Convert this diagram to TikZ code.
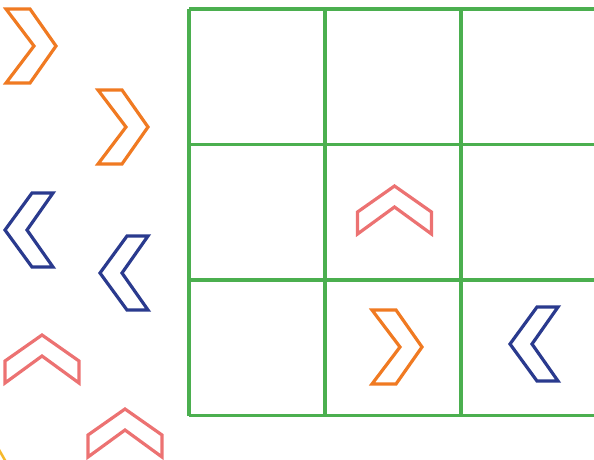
\documentclass[tikz,border=0pt]{standalone}
\usepackage{xcolor}
\usepackage{tikz}
\definecolor{ChevOrange}{HTML}{F07A22}
\definecolor{ChevBlue}{HTML}{2A3A8E}
\definecolor{ChevPink}{HTML}{EC7272}
\definecolor{GridGreen}{HTML}{4BAF4F}
\definecolor{EdgeYellow}{HTML}{F6B92B}

\begin{document}
\begin{tikzpicture}[x=1pt,y=-1pt,line join=miter,
 gridline/.style={draw=GridGreen,line width=3.8pt},
 chev/.style={line width=3.2pt,fill=none},
 rchev/.pic={\draw[chev,draw=ChevOrange] (0,0)--(24,0)--(50,37)--(24,74)--(0,74)--(28,37)--cycle;},
 lchev/.pic={\draw[chev,draw=ChevBlue] (0,0)--(-21,0)--(-48,37)--(-21,74)--(0,74)--(-26,37)--cycle;},
 uchev/.pic={\draw[chev,draw=ChevPink] (0,0)--(37,26)--(37,48)--(0,21)--(-37,48)--(-37,26)--cycle;}]
\useasboundingbox (0,0) rectangle (594,459);
% board
\foreach \gx in {189,325,461,597} \draw[gridline] (\gx,9)--(\gx,415.5);
\foreach \gy in {9,144.5,280,415.5} \draw[gridline] (189,\gy)--(597,\gy);
% loose pieces
\pic (o1) at (6,9) {rchev};
\pic (o2) at (98,90) {rchev};
\pic (b1) at (53,193) {lchev};
\pic (b2) at (148,236) {lchev};
\pic (p1) at (42,335) {uchev};
\pic (p2) at (125,409) {uchev};
% pieces on the board
\pic (p3) at (394.5,186) {uchev};
\pic (o3) at (372,310) {rchev};
\pic (b3) at (558,307) {lchev};
% cut-off piece in the corner
\begin{scope}
\clip (0,0) rectangle (594,459);
\draw[EdgeYellow,line width=2.5pt] (-2,448)--(6,462);
\end{scope}
\end{tikzpicture}
\end{document}
